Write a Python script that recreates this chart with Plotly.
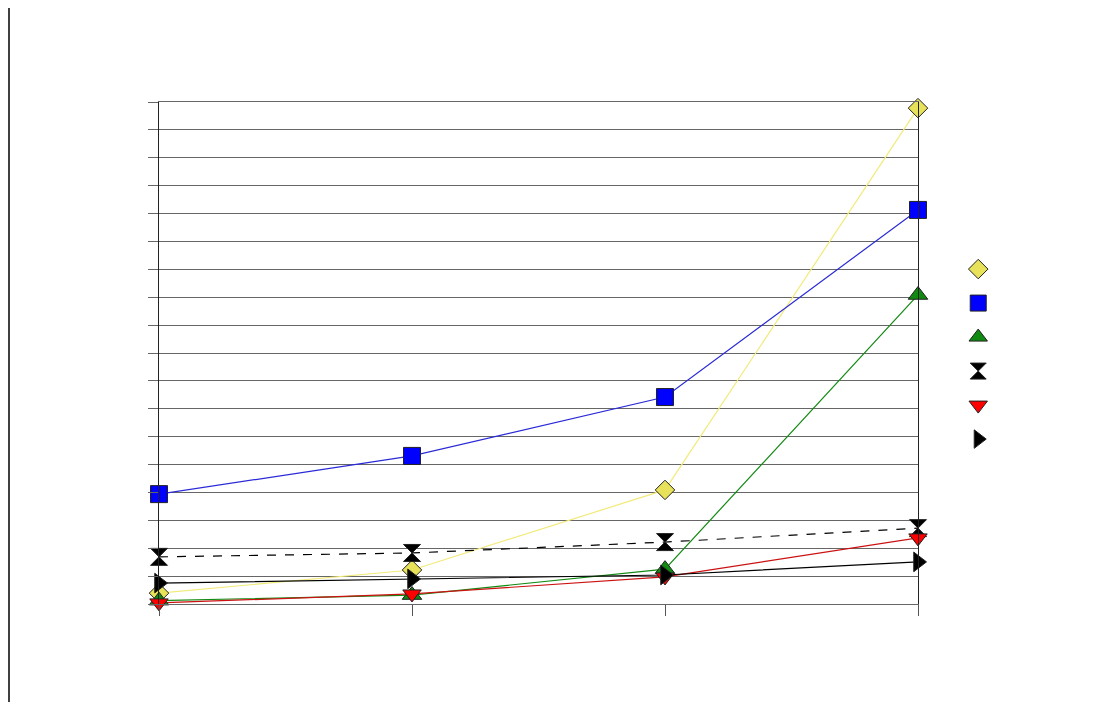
import plotly.graph_objects as go

# category positions along the x axis (no labels shown in the source)
categories = [0, 1, 2, 3]

# series values (y axis 0..18)
yellow_diamond = [0.39, 1.22, 4.09, 17.78]
blue_square = [3.94, 5.31, 7.42, 14.13]
green_up = [0.12, 0.32, 1.25, 11.08]
black_hourglass = [1.69, 1.83, 2.22, 2.72]
red_down = [0.04, 0.36, 0.97, 2.37]
black_right = [0.75, 0.90, 1.04, 1.51]

series = [
    (" ", yellow_diamond, "diamond", "#e8e15a", "#f2ea7a", "solid", 15),
    ("  ", blue_square, "square", "#0000ff", "#2a2ad8", "solid", 17),
    ("   ", green_up, "triangle-up", "#118a11", "#128a12", "solid", 17),
    ("    ", black_hourglass, "hourglass", "#000000", "#000000", "dash", 17),
    ("     ", red_down, "triangle-down", "#ff0000", "#cc1111", "solid", 16),
    ("      ", black_right, "triangle-right", "#000000", "#000000", "solid", 17),
]

fig = go.Figure()
for i, (name, vals, sym, mcol, lcol, dash, size) in enumerate(series):
    fig.add_trace(go.Scatter(
        x=categories, y=vals, mode='lines', showlegend=False,
        line=dict(color=lcol, width=1.2, dash=dash), cliponaxis=False,
        legendgroup=str(i)
    ))
for i, (name, vals, sym, mcol, lcol, dash, size) in enumerate(series):
    fig.add_trace(go.Scatter(
        x=categories, y=vals, mode='markers', name=name,
        marker=dict(symbol=sym, size=size, color=mcol, line=dict(color='#222', width=1)),
        cliponaxis=False, legendgroup=str(i)
    ))

# outer frame line on the left of the chart area
fig.add_shape(type='line', xref='paper', yref='paper',
              x0=(1 - 151) / 759, x1=(1 - 151) / 759, y0=596 / 502, y1=(596 - 694) / 502,
              line=dict(color='#000', width=1.5))

fig.update_layout(
    width=1110, height=694,
    margin=dict(l=151, r=200, t=94, b=98),
    plot_bgcolor='white', paper_bgcolor='white',
    font=dict(family='Liberation Sans, Arial', color='#000'),
    legend=dict(x=1.053, y=0.706, xanchor='left', yanchor='top', bgcolor='rgba(0,0,0,0)',
                font=dict(size=20), tracegroupgap=5),
    xaxis=dict(range=[0, 3], tickvals=categories, showticklabels=False, showgrid=False,
               ticks='outside', ticklen=11, tickcolor='#555', zeroline=False,
               showline=True, linecolor='#666', linewidth=1.2, mirror=True),
    yaxis=dict(range=[0, 18], dtick=1, showticklabels=False, showgrid=True,
               gridcolor='#666', gridwidth=1.2, ticks='outside', ticklen=10, tickcolor='#666',
               zeroline=False, showline=True, linecolor='#222', linewidth=1.2, mirror=True),
)

fig.write_html("out.html")
